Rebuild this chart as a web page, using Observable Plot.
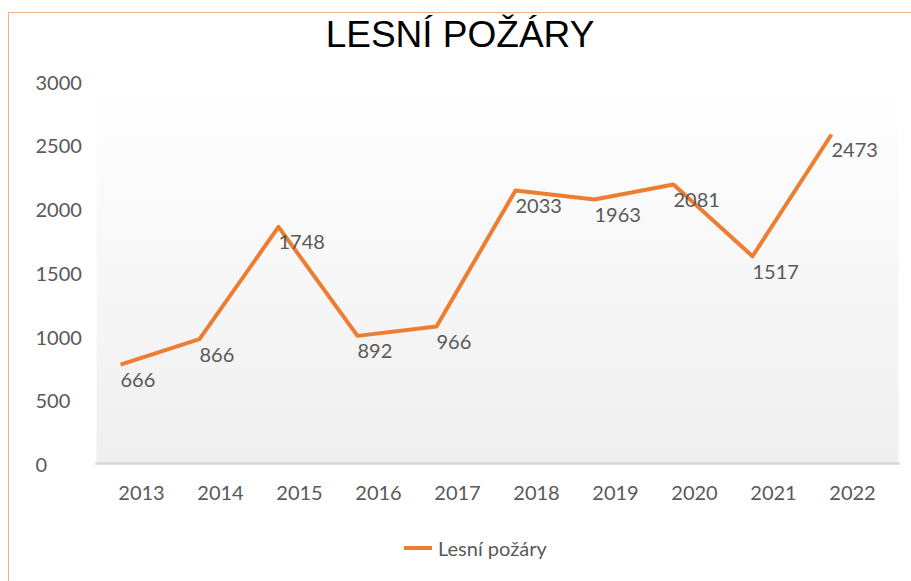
<!DOCTYPE html>
<html>
<head>
<meta charset="utf-8">
<script src="https://cdn.jsdelivr.net/npm/d3@7"></script>
<script src="https://cdn.jsdelivr.net/npm/@observablehq/plot@0.6"></script>
<style>
  html, body { margin: 0; padding: 0; background: #fff; width: 911px; height: 581px; overflow: hidden; }
  #wrap { position: relative; width: 911px; height: 581px; }
  #border { position: absolute; left: 8px; top: 12px; width: 1000px; height: 1000px; border-left: 1.5px solid #f4b183; border-top: 1.5px solid #f4b183; box-sizing: border-box; }
  #title { position: absolute; left: 0; width: 920px; top: 13px; text-align: center; font-family: "Liberation Sans", Arial, sans-serif; font-size: 37px; color: #000; line-height: 44px; }
  #chart { position: absolute; left: 0; top: 0; }
  #legend { position: absolute; left: 404px; top: 535px; height: 26px; display: flex; align-items: center; font-family: Lato, sans-serif; font-size: 20px; color: #595959; }
  #legend .sw { width: 28px; height: 4px; background: #ED7D31; margin-right: 6px; }
</style>
</head>
<body>
<div id="wrap">
  <div id="border"></div>
  <div id="chart"></div>
  <div id="title">LESNÍ POŽÁRY</div>
  <div id="legend"><span class="sw"></span><span id="legendText"></span></div>
</div>
<script>
const seriesName = "Lesní požáry";
const years = ["2013","2014","2015","2016","2017","2018","2019","2020","2021","2022"];
const fires = [666, 866, 1748, 892, 966, 2033, 1963, 2081, 1517, 2473];
const yTicks = [0, 500, 1000, 1500, 2000, 2500, 3000];

const data = years.map((y, i) => ({year: y, value: fires[i]}));
document.getElementById("legendText").textContent = seriesName;

const defs = () => {
  const ns = "http://www.w3.org/2000/svg";
  const d = document.createElementNS(ns, "defs");
  const g = document.createElementNS(ns, "linearGradient");
  g.setAttribute("id", "bg");
  g.setAttribute("x1", "0"); g.setAttribute("y1", "0");
  g.setAttribute("x2", "0"); g.setAttribute("y2", "1");
  const s1 = document.createElementNS(ns, "stop");
  s1.setAttribute("offset", "0"); s1.setAttribute("stop-color", "#ffffff");
  const s2 = document.createElementNS(ns, "stop");
  s2.setAttribute("offset", "1"); s2.setAttribute("stop-color", "#efefef");
  g.appendChild(s1); g.appendChild(s2); d.appendChild(g);
  return d;
};

const chart = Plot.plot({
  width: 911,
  height: 520,
  marginLeft: 96,
  marginRight: 13,
  marginTop: 83,
  marginBottom: 57,
  style: {fontFamily: "Lato, sans-serif", fontSize: "20px", color: "#595959", background: "transparent"},
  x: {type: "point", domain: years, range: [117, 834], padding: 0},
  y: {domain: [0, 3000], range: [449, 66.9]},
  marks: [
    defs,
    Plot.frame({fill: "url(#bg)", stroke: null}),
    Plot.frame({anchor: "bottom", stroke: "#d9d9d9", strokeWidth: 2.5}),
    Plot.axisY(yTicks, {anchor: "left", tickSize: 0, tickPadding: 61, textAnchor: "start", dy: 16, fill: "#595959", fontSize: 20, label: null, tickFormat: d => String(d)}),
    Plot.axisX({anchor: "bottom", tickSize: 0, tickPadding: 22, dx: 21, fill: "#595959", fontSize: 20, label: null}),
    Plot.line(data, {x: "year", y: "value", stroke: "#ED7D31", strokeWidth: 4, strokeLinejoin: "round", strokeLinecap: "butt"}),
    Plot.text(data, {x: "year", y: "value", text: d => String(d.value), textAnchor: "start", dy: 16, fill: "#595959", fontSize: 20})
  ]
});
document.getElementById("chart").appendChild(chart);
</script>
</body>
</html>
